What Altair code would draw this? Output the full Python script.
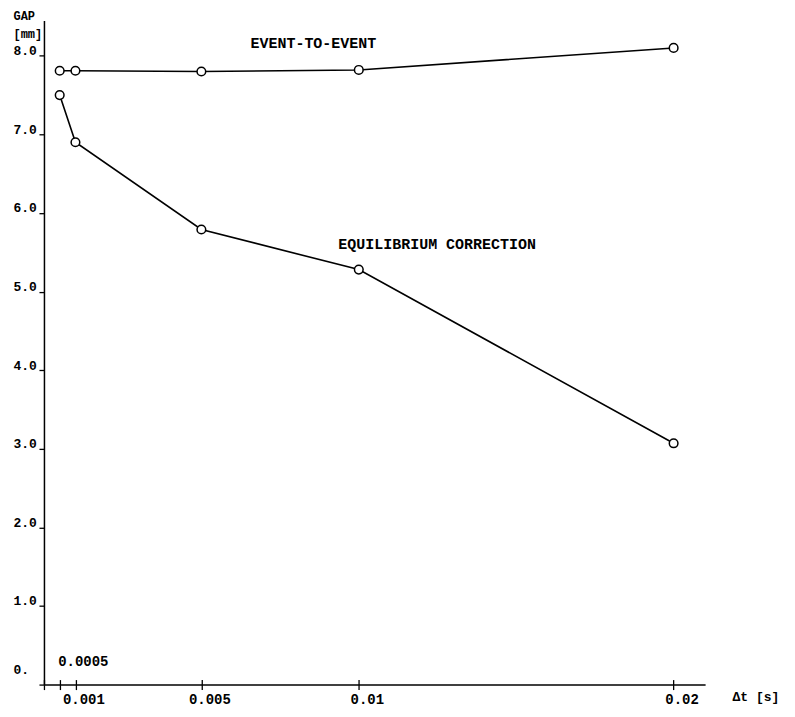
import altair as alt
import pandas as pd

# ---- data ----
dt = [0.0005, 0.001, 0.005, 0.01, 0.02]
event_to_event = [7.81, 7.81, 7.80, 7.82, 8.10]
equilibrium = [7.50, 6.90, 5.79, 5.28, 3.07]
series_names = ["EVENT-TO-EVENT", "EQUILIBRIUM CORRECTION"]
x_ticks = [0, 0.0005, 0.001, 0.005, 0.01, 0.02]
y_ticks = [0, 1, 2, 3, 4, 5, 6, 7, 8]
label_x = [0.00656, 0.00935]
label_y = [8.16, 5.61]

FONT = "Liberation Mono"
W, H = 662, 665

df = pd.DataFrame({
    "dt": dt * 2,
    "gap": event_to_event + equilibrium,
    "series": [series_names[0]] * len(dt) + [series_names[1]] * len(dt),
})
ann = pd.DataFrame({"x": label_x, "y": label_y, "text": series_names})

xscale = alt.Scale(domain=[0, 0.021], nice=False, zero=False)
yscale = alt.Scale(domain=[0, 8.45], nice=False)

y_axis = alt.Axis(
    values=y_ticks, grid=False, tickSize=5, tickColor="black", tickWidth=1.3,
    domainColor="black", domainWidth=1.5,
    labelExpr="datum.value == 0 ? '0.' : format(datum.value, '.1f')",
    labelAlign="left", labelPadding=26, labelBaseline="bottom",
    labelOffset={"condition": {"test": "datum.value == 0", "value": -8}, "value": 2},
    labelFont=FONT, labelFontSize=13, labelFontWeight="bold", labelColor="black",
    title=["GAP", "[mm]"], titleAngle=0, titleAlign="left", titleBaseline="top",
    titleX=-31, titleY=-10, titleFont=FONT, titleFontSize=12, titleFontWeight="bold",
    titleLineHeight=18, titleColor="black",
)

x_bottom = alt.X(
    "dt:Q", scale=xscale,
    axis=alt.Axis(
        orient="bottom", values=x_ticks, grid=False, tickSize=5, tickColor="black",
        tickWidth=1.3, domainColor="black", domainWidth=1.5,
        labelExpr="(datum.value == 0 || datum.value == 0.0005) ? '' : format(datum.value, '~g')",
        labelOffset=8, labelPadding=3, labelFont=FONT, labelFontSize=14,
        labelFontWeight="bold", labelColor="black",
        title="Δt [s]", titleX=689, titleY=12, titleAlign="left", titleBaseline="middle",
        titleFont=FONT, titleFontSize=13, titleFontWeight="bold", titleColor="black",
    ),
)

x_top = alt.X(
    "dt:Q", scale=xscale,
    axis=alt.Axis(
        orient="top", offset=-H, values=x_ticks, grid=False, domain=False,
        tickSize=5, tickColor="black", tickWidth=1.3,
        labelExpr="datum.value == 0.0005 ? '0.0005' : ''",
        labelAlign="left", labelOffset=-2, labelPadding=11,
        labelFont=FONT, labelFontSize=14, labelFontWeight="bold",
        labelColor="black", title=None,
    ),
)

lines = alt.Chart(df).mark_line(color="black", strokeWidth=1.6).encode(
    x=x_bottom, y=alt.Y("gap:Q", scale=yscale, axis=y_axis), detail="series:N"
)

points = alt.Chart(df).mark_point(
    shape="circle", fill="white", fillOpacity=1, stroke="black",
    strokeWidth=1.5, size=75, opacity=1
).encode(x=x_top, y=alt.Y("gap:Q", scale=yscale, axis=y_axis), detail="series:N")

labels = alt.Chart(ann).mark_text(
    align="left", baseline="middle", font=FONT, fontSize=15, fontWeight="bold",
    color="black"
).encode(
    x=alt.X("x:Q", scale=xscale, axis=None),
    y=alt.Y("y:Q", scale=yscale, axis=y_axis),
    text="text:N",
)

chart = (
    alt.layer(lines, points, labels)
    .resolve_axis(x="independent")
    .properties(
        width=W, height=H,
        autosize=alt.AutoSizeParams(type="none"),
        padding={"left": 36, "top": 12, "right": 82, "bottom": 24},
        background="white",
    )
    .configure_view(stroke=None)
)

chart.save("out.html", embed_options={"renderer": "svg", "actions": False})
